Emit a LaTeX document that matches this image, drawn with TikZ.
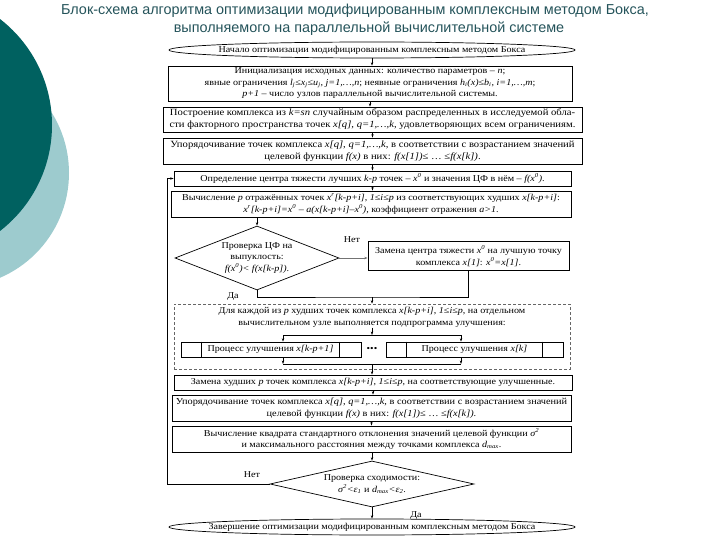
\documentclass[tikz,border=0pt]{standalone}
\usepackage{fontspec}
\setmainfont{Liberation Serif}
\newfontfamily\titlefont{Liberation Sans}
\newfontfamily\boxfont[FakeStretch=1.12]{Liberation Serif}
\usetikzlibrary{shapes.geometric,arrows.meta}
\definecolor{darkteal}{HTML}{006160}
\definecolor{lightteal}{HTML}{9DCBCE}
\definecolor{titlecol}{HTML}{24535A}
\newcommand{\iv}[1]{\textit{#1}}
\newcommand{\sps}[1]{\textsuperscript{#1}}
\newcommand{\sbs}[1]{\textsubscript{#1}}
\tikzset{
  box/.style={draw=black, line width=0.7pt, inner sep=0pt, align=center,
    font=\boxfont\fontsize{9}{11.5}\selectfont},
  widebox/.style={box, font=\boxfont\fontsize{9.5}{11.8}\selectfont},
  midbox/.style={box, font=\boxfont\fontsize{9.2}{11.8}\selectfont},
  shapebox/.style={draw=black, line width=0.7pt, inner sep=0pt},
  txt/.style={inner sep=0pt, align=center, font=\boxfont\fontsize{9}{11.5}\selectfont},
  lbl/.style={inner sep=0pt, font=\boxfont\fontsize{9}{11}\selectfont},
  arr/.style={-{Stealth[length=3.5pt,width=2.4pt]}, line width=0.5pt},
  ln/.style={line width=0.5pt},
  ttl/.style={inner sep=0pt, text=titlecol, font=\titlefont\fontsize{14.4}{16}\selectfont}
}
\begin{document}
\begin{tikzpicture}[x=1pt,y=-1pt]
\useasboundingbox (0,0) rectangle (720,540);
% decoration
\fill[lightteal] (-45,173) circle (114);
\fill[darkteal] (-82,125) circle (134);
% title
\node[ttl] (t1) at (355,11) {Блок-схема алгоритма оптимизации модифицированным комплексным методом Бокса,};
\node[ttl] (t2) at (369,29) {выполняемого на параллельной вычислительной системе};
% start
\node[shapebox, ellipse, minimum width=406pt, minimum height=16pt] (st) at (372,50) {};
\node[txt] (stt) at (st.center) {Начало оптимизации модифицированным комплексным методом Бокса};
% boxes
\node[box, minimum width=404pt, minimum height=35pt] (b2) at (370,83.5) {Инициализация исходных данных: количество параметров – \iv{n};\\
явные ограничения \iv{l\sbs{j}}≤\iv{x\sbs{j}}≤\iv{u\sbs{j}}, \iv{j=1,…,n}; неявные ограничения \iv{h\sbs{i}(x)}≤\iv{b\sbs{i}}, \iv{i=1,…,m};\\
\iv{p+1} – число узлов параллельной вычислительной системы.};
\node[widebox, minimum width=419pt, minimum height=25pt] (b3) at (372.5,119.5) {Построение комплекса из \iv{k=sn} случайным образом распределенных в исследуемой обла-\\
сти факторного пространства точек \iv{x[q]}, \iv{q=1,…,k}, удовлетворяющих всем ограничениям.};
\node[widebox, minimum width=419pt, minimum height=26pt] (b4) at (372.5,151) {Упорядочивание точек комплекса \iv{x[q]}, \iv{q=1,…,k}, в соответствии с возрастанием значений\\
целевой функции \iv{f(x)} в них: \iv{f(x[1])}≤ … ≤\iv{f(x[k])}.};
\node[box, minimum width=397pt, minimum height=15pt] (b5) at (372.5,178.5) {Определение центра тяжести лучших \iv{k-p} точек – \iv{x\sps{0}} и значения ЦФ в нём – \iv{f(x\sps{0})}.};
\node[box, minimum width=400pt, minimum height=26pt] (b6) at (371,204) {Вычисление \iv{p} отражённых точек \iv{x\sps{r}[k-p+i]}, \iv{1}≤\iv{i}≤\iv{p} из соответствующих худших \iv{x[k-p+i]}:\\
\iv{x\sps{r}[k-p+i]=x\sps{0} – a(x[k-p+i]–x\sps{0})}, коэффициент отражения \iv{a>1}.};
% diamond 1
\node[shapebox, diamond, minimum width=164pt, minimum height=64pt] (d1) at (257,258) {};
\node[txt] (d1t) at (d1.center) {Проверка ЦФ на\\выпуклость:\\\iv{f(x\sps{0})< f(x[k-p])}.};
\node[box, minimum width=201pt, minimum height=29pt] (b7) at (468.5,256) {Замена центра тяжести \iv{x\sps{0}} на лучшую точку\\
комплекса \iv{x[1]}: \iv{x\sps{0}=x[1]}.};
\node[lbl] (no1) at (352,240) {Нет};
\node[lbl] (yes1) at (233,297) {Да};
% dashed block
\node[draw=black!60, dashed, dash pattern=on 3pt off 2pt, line width=0.6pt, inner sep=0pt,
  minimum width=396pt, minimum height=65pt] (db) at (372,336.5) {};
\node[txt] (dbt) at (372,317.5) {Для каждой из \iv{p} худших точек комплекса \iv{x[k-p+i]}, \iv{1}≤\iv{i}≤\iv{p}, на отдельном\\
вычислительном узле выполняется подпрограмма улучшения:};
\node[box, minimum width=180pt, minimum height=15pt] (p1) at (271,349.5) {};
\node[txt] (p1t) at (270.5,349.5) {Процесс улучшения \iv{x[k-p+1]}};
\node[box, minimum width=177pt, minimum height=15pt] (p2) at (474.5,349.5) {};
\node[txt] (p2t) at (474.5,349.5) {Процесс улучшения \iv{x[k]}};
\node[txt] (dots) at (372,349.5) {•••};
% lower boxes
\node[box, minimum width=398pt, minimum height=15pt] (rep) at (373,382.5) {Замена худших \iv{p} точек комплекса \iv{x[k-p+i]}, \iv{1}≤\iv{i}≤\iv{p}, на соответствующие улучшенные.};
\node[midbox, minimum width=399pt, minimum height=26pt] (srt) at (371.5,408) {Упорядочивание точек комплекса \iv{x[q]}, \iv{q=1,…,k}, в соответствии с возрастанием значений\\
целевой функции \iv{f(x)} в них: \iv{f(x[1])}≤ … ≤\iv{f(x[k])}.};
\node[box, minimum width=399pt, minimum height=26pt] (cmp) at (371.5,439) {Вычисление квадрата стандартного отклонения значений целевой функции \iv{σ\sps{2}}\\
и максимального расстояния между точками комплекса \iv{d\sbs{max}}.};
\node[shapebox, diamond, minimum width=204pt, minimum height=46pt] (d2) at (372,484) {};
\node[txt] (d2t) at (d2.center) {Проверка сходимости:\\\iv{σ\sps{2}<ε\sbs{1}} и \iv{d\sbs{max}<ε\sbs{2}}.};
\node[lbl] (no2) at (252,475) {Нет};
\node[lbl] (yes2) at (416,516) {Да};
\node[shapebox, ellipse, minimum width=406pt, minimum height=16pt] (en) at (372,527) {};
\node[txt] (ent) at (en.center) {Завершение оптимизации модифицированным комплексным методом Бокса};
% coordinates
\coordinate (lpx) at (167,0);
\coordinate (mrg) at (372,297);
\coordinate (fl) at (283,335);
\coordinate (fr) at (461,335);
\coordinate (fk) at (372,335);
\coordinate (jl) at (283,364);
\coordinate (jr) at (461,364);
\coordinate (jc) at (372,364);
% connectors
\draw[arr] (st.south) -- (st.south |- b2.north);
\draw[arr] (b2.south) -- (b2.south |- b3.north);
\draw[arr] (b3.south) -- (b3.south |- b4.north);
\draw[arr] (b4.south) -- (b4.south |- b5.north);
\draw[arr] (b5.south) -- (b5.south |- b6.north);
\draw[arr] (d1.north |- b6.south) -- (d1.north);
\draw[arr, black!55] (d1.east) -- (d1.east -| b7.west);
\draw[ln] (d1.south) |- (mrg) -| (b7.south);
\draw[arr] (mrg) -- (mrg |- db.north);
\draw[arr] (fk |- dbt.south) -- (fk);
\draw[ln] (fl) -- (fr);
\draw[arr] (fl) -- (fl |- p1.north);
\draw[arr] (fr) -- (fr |- p2.north);
\draw[arr] (jl |- p1.south) -- (jl);
\draw[arr] (jr |- p2.south) -- (jr);
\draw[ln] (jl) -- (jr);
\draw[arr] (jc) -- (jc |- rep.north);
\draw[arr] (rep.south) -- (rep.south |- srt.north);
\draw[arr] (srt.south) -- (srt.south |- cmp.north);
\draw[arr] (cmp.south -| d2.north) -- (d2.north);
\draw[arr] (d2.south) -- (d2.south |- en.north);
\draw[arr] (d2.west) -- (d2.west -| lpx) |- (b5.west);
% process box dividers
\draw[ln] ([xshift=21pt]p1.north west) -- ([xshift=21pt]p1.south west);
\draw[ln] ([xshift=-22pt]p1.north east) -- ([xshift=-22pt]p1.south east);
\draw[ln] ([xshift=21pt]p2.north west) -- ([xshift=21pt]p2.south west);
\draw[ln] ([xshift=-21pt]p2.north east) -- ([xshift=-21pt]p2.south east);
\end{tikzpicture}
\end{document}
